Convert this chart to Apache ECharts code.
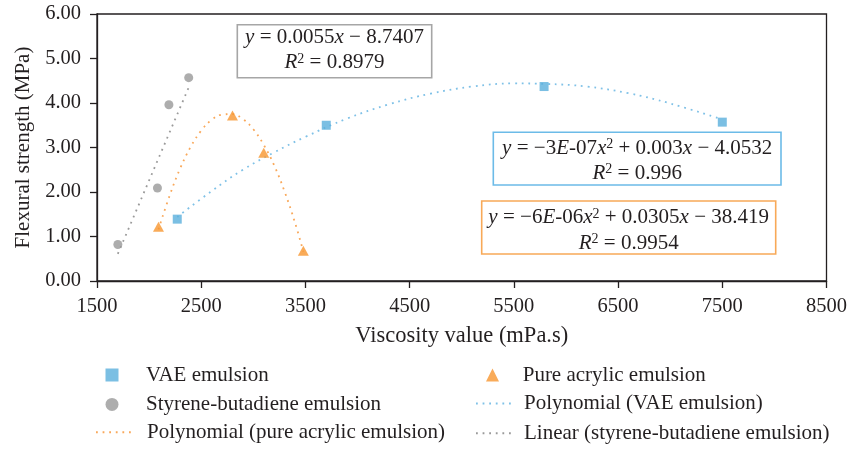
<!DOCTYPE html>
<html>
<head>
<meta charset="utf-8">
<script src="https://cdn.jsdelivr.net/npm/echarts@6/dist/echarts.min.js"></script>
<style>
html,body{margin:0;padding:0;background:#fff;}
#chart{width:850px;height:449px;}
</style>
</head>
<body>
<div id="chart"></div>
<script>
// ---- data ----
const xTickValues = [1500, 2500, 3500, 4500, 5500, 6500, 7500, 8500];
const yTickValues = [0, 1, 2, 3, 4, 5, 6];

const seriesNames = [
  'VAE emulsion',
  'Pure acrylic emulsion',
  'Styrene-butadiene emulsion',
  'Polynomial (VAE emulsion)',
  'Polynomial (pure acrylic emulsion)',
  'Linear (styrene-butadiene emulsion)'
];

const vaeX = [2270, 3700, 5790, 7500];
const vaeY = [1.39, 3.50, 4.37, 3.57];

const acrylicX = [2090, 2800, 3100, 3480];
const acrylicY = [1.22, 3.72, 2.88, 0.68];

const sbX = [1700, 2080, 2190, 2380];
const sbY = [0.82, 2.09, 3.96, 4.57];

// trendlines as traced on the picture
const vaeTrendX = [2270, 2600, 2900, 3200, 3500, 3900, 4300, 4700, 5100, 5500, 5800, 6200, 6600, 7000, 7500];
const vaeTrendY = [1.44, 2.02, 2.50, 2.89, 3.24, 3.65, 3.97, 4.21, 4.37, 4.44, 4.43, 4.37, 4.22, 3.99, 3.63];

const acrylicTrendX = [2090, 2200, 2300, 2400, 2500, 2600, 2700, 2800, 2900, 3000, 3100, 3200, 3300, 3400, 3480];
const acrylicTrendY = [1.16, 1.94, 2.54, 3.02, 3.38, 3.62, 3.74, 3.75, 3.64, 3.41, 3.06, 2.60, 2.01, 1.31, 0.66];

const sbTrendX = [1700, 2380];
const sbTrendY = [0.61, 4.35];

const eqLinear = ['{i|y} = 0.0055{i|x} − 8.7407', '{i|R}{s|2} = 0.8979'];
const eqVae = ['{i|y} = −3{i|E}-07{i|x}{s|2} + 0.003{i|x} − 4.0532', '{i|R}{s|2} = 0.996'];
const eqAcrylic = ['{i|y} = −6{i|E}-06{i|x}{s|2} + 0.0305{i|x} − 38.419', '{i|R}{s|2} = 0.9954'];

// ---- build ----
const zip = (xs, ys) => xs.map((x, i) => [x, ys[i]]);
const FONT = '"Liberation Serif", "DejaVu Serif", serif';
const TXT = '#231f20';

const richStyle = {
  i: { fontStyle: 'italic', fontSize: 21, fontFamily: FONT, fill: TXT, lineHeight: 21 },
  s: { fontSize: 14, fontFamily: FONT, fill: TXT, verticalAlign: 'top', lineHeight: 14 }
};

function eqText(text, x, y) {
  return {
    type: 'text', x: x, y: y, z: 101,
    style: {
      text: text, align: 'center', verticalAlign: 'middle',
      fontSize: 21, fontFamily: FONT, fill: TXT, lineHeight: 21,
      rich: richStyle
    }
  };
}
function eqBox(x, y, w, h, color) {
  return {
    type: 'rect', z: 100,
    shape: { x: x, y: y, width: w, height: h },
    style: { fill: '#ffffff', stroke: color, lineWidth: 1.6 }
  };
}

const legendText = (pad) => ({
  fontSize: 21, fontFamily: FONT, color: TXT, lineHeight: 20, padding: [0, 0, 0, pad]
});
const hiddenSymbol = { color: 'rgba(0,0,0,0)', borderColor: 'rgba(0,0,0,0)', opacity: 0 };

const chart = echarts.init(document.getElementById('chart'), null, { renderer: 'canvas' });

const option = {
  animation: false,
  backgroundColor: '#ffffff',
  textStyle: { fontFamily: FONT },
  grid: {
    left: 97, right: 23.3, top: 14, bottom: 168,
    show: true, borderColor: TXT, borderWidth: 1.3
  },
  xAxis: {
    type: 'value', min: 1500, max: 8500, interval: 1000,
    name: 'Viscosity value (mPa.s)', nameLocation: 'middle', nameGap: 44,
    nameTextStyle: { fontSize: 22.5, fontFamily: FONT, color: TXT },
    axisLine: { show: true, lineStyle: { color: TXT, width: 1.3 } },
    axisTick: { show: true, length: 7, lineStyle: { color: TXT, width: 1.3 }, customValues: xTickValues },
    axisLabel: { fontSize: 20.5, fontFamily: FONT, color: TXT, margin: 15, customValues: xTickValues,
      formatter: v => String(v) },
    splitLine: { show: false }
  },
  yAxis: {
    type: 'value', min: 0, max: 6, interval: 1,
    name: 'Flexural strength (MPa)', nameLocation: 'middle', nameGap: 63,
    nameTextStyle: { fontSize: 21, fontFamily: FONT, color: TXT },
    axisLine: { show: true, lineStyle: { color: TXT, width: 1.3 } },
    axisTick: { show: true, length: 7, lineStyle: { color: TXT, width: 1.3 }, customValues: yTickValues },
    axisLabel: { fontSize: 20.5, fontFamily: FONT, color: TXT, margin: 16, customValues: yTickValues,
      formatter: v => v.toFixed(2) },
    splitLine: { show: false }
  },
  legend: [
    {
      orient: 'vertical', left: 105.5, top: 364.5, padding: 0,
      itemWidth: 13, itemHeight: 13, itemGap: 8.4,
      data: [seriesNames[0], seriesNames[2]],
      textStyle: legendText(22.5)
    },
    {
      orient: 'vertical', left: 95, top: 421.7, padding: 0,
      itemWidth: 35, itemHeight: 13, itemGap: 8.6,
      data: [seriesNames[4]],
      itemStyle: hiddenSymbol,
      textStyle: legendText(11)
    },
    {
      orient: 'vertical', left: 486, top: 364.5, padding: 0,
      itemWidth: 13, itemHeight: 13, itemGap: 8.6,
      data: [seriesNames[1]],
      textStyle: legendText(18.7)
    },
    {
      orient: 'vertical', left: 475, top: 392.9, padding: 0,
      itemWidth: 35, itemHeight: 13, itemGap: 8.8,
      data: [seriesNames[3], seriesNames[5]],
      itemStyle: hiddenSymbol,
      textStyle: legendText(8)
    }
  ],
  series: [
    {
      name: seriesNames[0], type: 'scatter', symbol: 'rect', symbolSize: 9, z: 5,
      itemStyle: { color: '#5aafdc' }, data: zip(vaeX, vaeY)
    },
    {
      name: seriesNames[1], type: 'scatter', symbol: 'triangle', symbolSize: [11, 10], z: 5,
      itemStyle: { color: '#f7962f' }, data: zip(acrylicX, acrylicY)
    },
    {
      name: seriesNames[2], type: 'scatter', symbol: 'circle', symbolSize: 9, z: 5,
      itemStyle: { color: '#999999' }, data: zip(sbX, sbY)
    },
    {
      name: seriesNames[3], type: 'line', smooth: 0.4, showSymbol: false, symbol: 'none', z: 3,
      lineStyle: { color: '#7fc1e7', width: 1.8, type: [1.8, 4.8] },
      itemStyle: { color: '#7fc1e7' },
      data: zip(vaeTrendX, vaeTrendY)
    },
    {
      name: seriesNames[4], type: 'line', smooth: 0.4, showSymbol: false, symbol: 'none', z: 3,
      lineStyle: { color: '#f9a85a', width: 1.8, type: [1.8, 4.8] },
      itemStyle: { color: '#f9a85a' },
      data: zip(acrylicTrendX, acrylicTrendY)
    },
    {
      name: seriesNames[5], type: 'line', showSymbol: false, symbol: 'none', z: 3,
      lineStyle: { color: '#9a9a9a', width: 1.8, type: [1.8, 4.8] },
      itemStyle: { color: '#9a9a9a' },
      data: zip(sbTrendX, sbTrendY)
    }
  ],
  graphic: [
    eqBox(237.3, 24.7, 194.4, 53, '#a6a6a6'),
    eqText(eqLinear[0], 334.5, 37.5),
    eqText(eqLinear[1], 334.5, 62.5),
    eqBox(493.3, 132.3, 287.7, 52.7, '#6cbbe8'),
    eqText(eqVae[0], 637.2, 148.3),
    eqText(eqVae[1], 637.2, 173.3),
    eqBox(481.7, 201, 294, 53, '#f8a958'),
    eqText(eqAcrylic[0], 628.7, 217.5),
    eqText(eqAcrylic[1], 628.7, 243)
  ]
};

chart.setOption(option);
</script>
</body>
</html>
